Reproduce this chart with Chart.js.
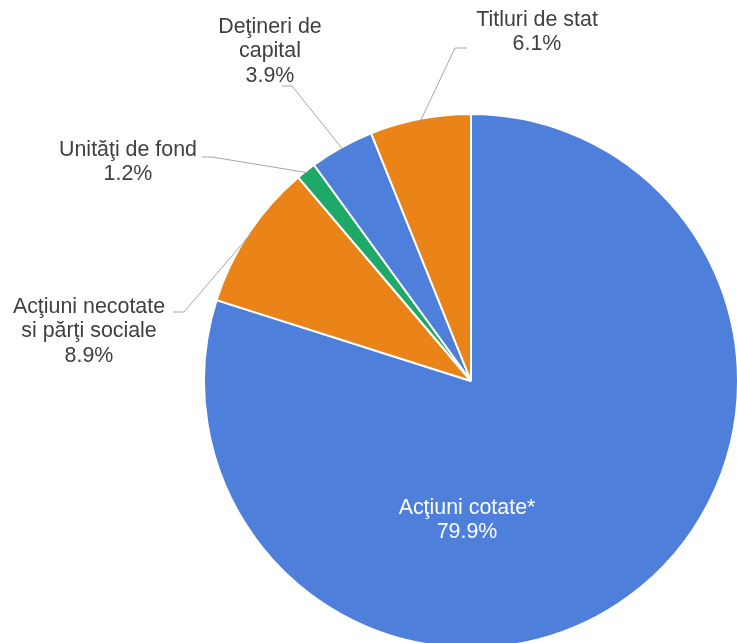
<!DOCTYPE html>
<html>
<head>
<meta charset="utf-8">
<script src="https://cdn.jsdelivr.net/npm/chart.js@4.4.0/dist/chart.umd.min.js"></script>
<style>
  html, body { margin: 0; padding: 0; background: #fff; }
  #frame { width: 737px; height: 643px; overflow: hidden; position: relative; }
  #wrap { width: 739px; height: 651px; }
</style>
</head>
<body>
<div id="frame"><div id="wrap"><canvas id="pie"></canvas></div></div>
<script>
const categories = [
  ['Acţiuni cotate*'],
  ['Acţiuni necotate', 'si părţi sociale'],
  ['Unităţi de fond'],
  ['Deţineri de', 'capital'],
  ['Titluri de stat']
];
const shares = [79.9, 8.9, 1.2, 3.9, 6.1];
const sliceColors = ['#4E7FDB', '#EA8419', '#1FA968', '#4E7FDB', '#EA8419'];

// label placement, offsets from the pie centre (px)
const LABEL_POS = [
  { text: [-4, 127], inside: true },
  { elbow: [-287, -69], end: [-298, -69], text: [-382, -74] },
  { elbow: [-259, -224], end: [-269, -224], text: [-343, -231] },
  { elbow: [-179, -295], end: [-189, -295], text: [-201, -354] },
  { elbow: [-16, -333], end: [-4, -333], text: [66, -361] }
];
const FONT = '21.4px "Liberation Sans", Arial, sans-serif';
const LINE_H = 24.5;

const pieLabels = {
  id: 'pieLabels',
  afterDatasetsDraw(chart) {
    const ctx = chart.ctx;
    const arcs = chart.getDatasetMeta(0).data;
    ctx.save();
    ctx.font = FONT;
    ctx.textAlign = 'center';
    ctx.textBaseline = 'middle';
    arcs.forEach((arc, i) => {
      const p = arc.getProps(['x', 'y', 'startAngle', 'endAngle', 'outerRadius'], true);
      const pos = LABEL_POS[i];
      const lines = categories[i].concat([shares[i].toFixed(1) + '%']);
      if (!pos.inside) {
        const mid = (p.startAngle + p.endAngle) / 2;
        const sx = p.x + Math.cos(mid) * (p.outerRadius - 2);
        const sy = p.y + Math.sin(mid) * (p.outerRadius - 2);
        ctx.strokeStyle = '#a6a6a6';
        ctx.lineWidth = 1;
        ctx.beginPath();
        ctx.moveTo(sx, sy);
        ctx.lineTo(p.x + pos.elbow[0], p.y + pos.elbow[1]);
        ctx.lineTo(p.x + pos.end[0], p.y + pos.end[1]);
        ctx.stroke();
      }
      ctx.fillStyle = pos.inside ? '#ffffff' : '#404040';
      lines.forEach((t, k) => {
        ctx.fillText(t, p.x + pos.text[0], p.y + pos.text[1] + k * LINE_H);
      });
    });
    ctx.restore();
  }
};

new Chart(document.getElementById('pie'), {
  type: 'pie',
  data: {
    labels: categories.map(c => c.join(' ')),
    datasets: [{
      data: shares,
      backgroundColor: sliceColors,
      borderColor: '#ffffff',
      borderWidth: 2
    }]
  },
  options: {
    responsive: true, maintainAspectRatio: false,
    animation: false,
    events: [],
    layout: { padding: { left: 203, right: 0, top: 113, bottom: 2 } },
    plugins: { legend: { display: false }, tooltip: { enabled: false } }
  },
  plugins: [pieLabels]
});
</script>
</body>
</html>
